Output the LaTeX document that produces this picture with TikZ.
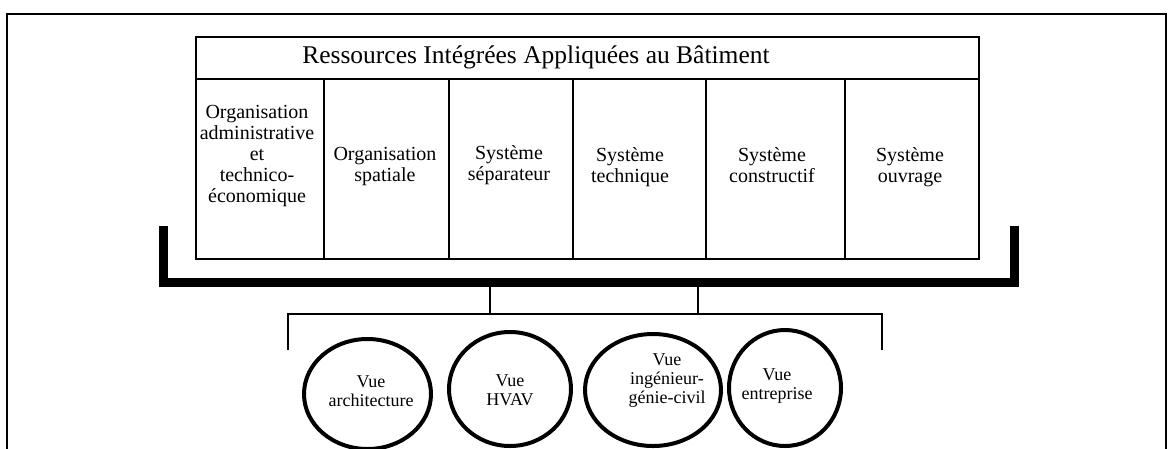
\documentclass[tikz,border=0pt]{standalone}
\usepackage{fontspec}
\setmainfont{Liberation Serif}
\usetikzlibrary{shapes.geometric,calc}
\begin{document}
\begin{tikzpicture}[x=1pt,y=-1pt,
  frameline/.style={line width=1.8pt},
  titlebox/.style={draw,line width=2pt,minimum width=783pt,minimum height=42pt,inner sep=0pt,anchor=north west},
  titletext/.style={inner sep=0pt,font=\fontsize{25.5}{28}\selectfont},
  colbox/.style={draw,line width=2pt,minimum height=180pt,inner sep=0pt,anchor=north west},
  coltext/.style={align=center,inner sep=0pt,font=\fontsize{20}{21}\selectfont},
  bracket/.style={line width=9pt,line cap=rect,line join=miter},
  link/.style={line width=2pt},
  view/.style={draw,ellipse,line width=4pt,inner sep=0pt},
  viewtext/.style={align=center,inner sep=0pt,font=\fontsize{18}{19}\selectfont}
]
\useasboundingbox (0,0) rectangle (1169,448);
\fill[white] (0,0) rectangle (1169,448);
% outer frame (bottom edge lies below the picture)
\draw[frameline] (7,470) -- (7,14) -- (1166,14) -- (1166,470);

% title and columns
\node[titlebox] (title) at (195,36) {};
\node[titletext] (tt) at (536,57) {Ressources Intégrées Appliquées au Bâtiment};
\node[colbox,minimum width=128pt] (c1) at (195,78) {};
\node[colbox,minimum width=125pt] (c2) at (323,78) {};
\node[colbox,minimum width=124pt] (c3) at (448,78) {};
\node[colbox,minimum width=133pt] (c4) at (572,78) {};
\node[colbox,minimum width=139pt] (c5) at (705,78) {};
\node[colbox,minimum width=134pt] (c6) at (844,78) {};

\node[coltext] (t1) at (257,156) {Organisation\\administrative\\et\\technico-\\économique};
\node[coltext] (t2) at (385,167) {Organisation\\spatiale};
\node[coltext] (t3) at (509,165) {Système\\séparateur};
\node[coltext] (t4) at (630,167) {Système\\technique};
\node[coltext] (t5) at (772,165) {Système\\constructif};
\node[coltext] (t6) at (910,167) {Système\\ouvrage};

% bracket
\coordinate (bl) at (163.5,230);
\coordinate (br) at (1014,230);
\coordinate (bb) at (163.5,282.5);
\draw[bracket] (bl) -- (bb) -- (br |- bb) -- (br);

% views
\node[view,minimum width=127pt,minimum height=110pt] (v1) at (367.5,394) {};
\node[view,minimum width=122pt,minimum height=114pt] (v2) at (510,389) {};
\node[view,minimum width=136pt,minimum height=112pt] (v3) at (653,390) {};
\node[view,minimum width=112pt,minimum height=116pt] (v4) at (785,388) {};

\node[viewtext] (w1) at (371,391) {Vue\\architecture};
\node[viewtext] (w2) at (510,390) {Vue\\HVAV};
\node[viewtext] (w3) at (667,381) {Vue\\ingénieur-\\génie-civil};
\node[viewtext] (w4) at (777,386) {Vue\\entreprise};

% connectors
\coordinate (s1) at (490,286);
\coordinate (s2) at (698,286);
\coordinate (hl) at (288,314);
\coordinate (hr) at (882,314);
\coordinate (dl) at (288,350);
\coordinate (dr) at (882,350);
\draw[link] (s1) -- (s1 |- hl);
\draw[link] (s2) -- (s2 |- hl);
\draw[link] (dl) -- (hl) -- (hr) -- (dr);
\end{tikzpicture}
\end{document}
